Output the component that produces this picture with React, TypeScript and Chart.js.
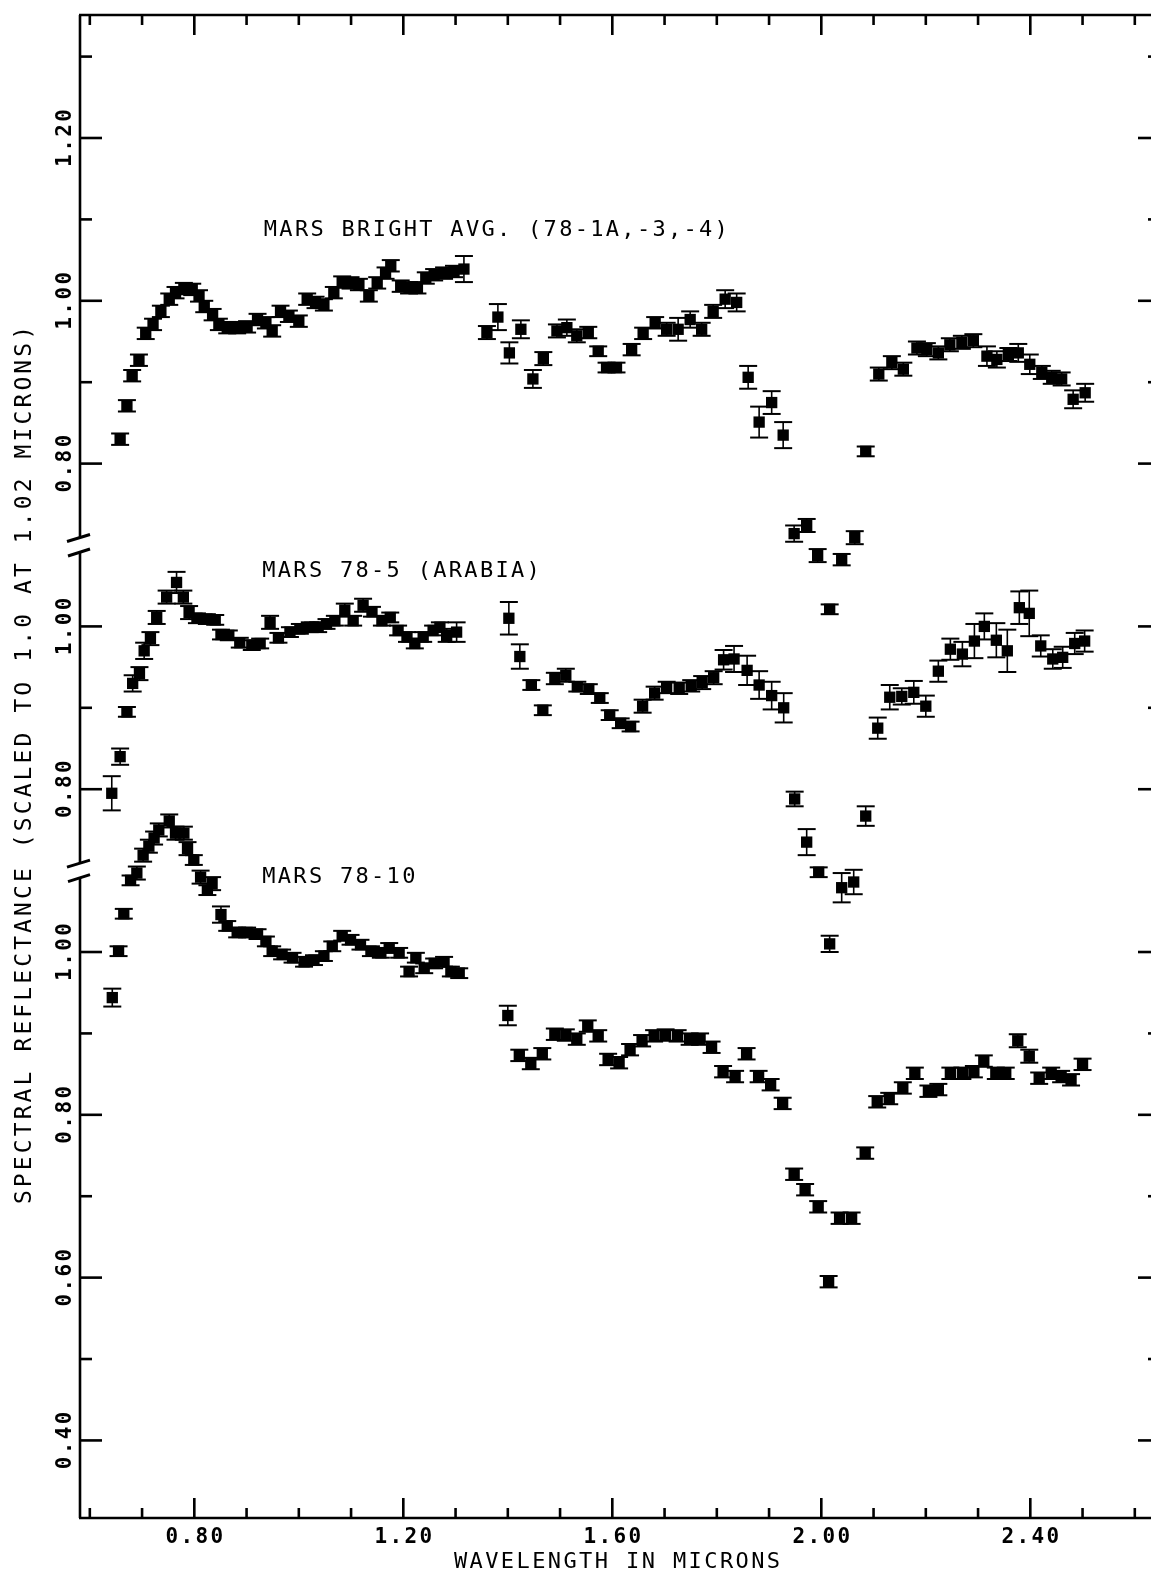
import { useEffect, useRef } from 'react';
import { Chart, registerables } from 'chart.js';

Chart.register(...registerables);

// ---------------- DATA ----------------
// MARS BRIGHT AVG. (78-1A,-3,-4)
const brightWl = [
  0.658, 0.671, 0.681, 0.694, 0.707, 0.721, 0.736, 0.752, 0.764, 0.780,
  0.796, 0.809, 0.819, 0.835, 0.847, 0.863, 0.882, 0.901, 0.921, 0.937,
  0.949, 0.965, 0.981, 1.000, 1.016, 1.032, 1.048, 1.067, 1.083, 1.099,
  1.115, 1.134, 1.150, 1.166, 1.176, 1.195, 1.211, 1.227, 1.243, 1.259,
  1.278, 1.297, 1.316,
  1.360, 1.381, 1.403, 1.425, 1.448, 1.468, 1.494, 1.513, 1.532, 1.554,
  1.573, 1.589, 1.608, 1.637, 1.659, 1.682, 1.704, 1.726, 1.749, 1.771,
  1.793, 1.816, 1.838, 1.860, 1.881, 1.905, 1.927, 1.948, 1.972, 1.993,
  2.016, 2.039, 2.064, 2.085, 2.110, 2.135, 2.157, 2.183, 2.202, 2.224,
  2.246, 2.269, 2.291, 2.317, 2.336, 2.358, 2.377, 2.399, 2.422, 2.441,
  2.460, 2.482, 2.505,
];
const brightRefl = [
  0.830, 0.871, 0.908, 0.927, 0.960, 0.971, 0.987, 1.002, 1.010, 1.015,
  1.014, 1.006, 0.993, 0.983, 0.971, 0.967, 0.967, 0.968, 0.977, 0.973,
  0.963, 0.987, 0.981, 0.975, 1.002, 0.998, 0.995, 1.010, 1.023, 1.022,
  1.020, 1.006, 1.022, 1.034, 1.043, 1.018, 1.016, 1.016, 1.028, 1.032,
  1.034, 1.036, 1.039,
  0.961, 0.980, 0.936, 0.965, 0.904, 0.929, 0.963, 0.967, 0.957, 0.961,
  0.938, 0.918, 0.918, 0.940, 0.960, 0.973, 0.965, 0.965, 0.977, 0.965,
  0.987, 1.002, 0.998, 0.906, 0.851, 0.875, 0.835, 0.714, 0.724, 0.687,
  0.621, 0.682, 0.709, 0.815, 0.910, 0.924, 0.916, 0.942, 0.940, 0.936,
  0.946, 0.949, 0.951, 0.932, 0.928, 0.934, 0.936, 0.922, 0.912, 0.906,
  0.904, 0.879, 0.887,
];
const brightErr = [
  0.007, 0.007, 0.007, 0.007, 0.007, 0.007, 0.007, 0.007, 0.007, 0.007,
  0.007, 0.007, 0.007, 0.007, 0.007, 0.007, 0.007, 0.007, 0.007, 0.007,
  0.007, 0.007, 0.007, 0.007, 0.007, 0.007, 0.007, 0.007, 0.007, 0.007,
  0.007, 0.007, 0.007, 0.007, 0.007, 0.007, 0.007, 0.007, 0.007, 0.007,
  0.007, 0.007, 0.016,
  0.008, 0.016, 0.013, 0.011, 0.011, 0.008, 0.008, 0.010, 0.008, 0.007,
  0.006, 0.006, 0.006, 0.007, 0.007, 0.007, 0.008, 0.014, 0.010, 0.008,
  0.008, 0.011, 0.011, 0.014, 0.019, 0.014, 0.016, 0.010, 0.008, 0.008,
  0.006, 0.007, 0.008, 0.006, 0.008, 0.008, 0.008, 0.008, 0.008, 0.008,
  0.008, 0.008, 0.008, 0.012, 0.010, 0.008, 0.011, 0.012, 0.008, 0.008,
  0.008, 0.011, 0.011,
];

// MARS 78-5 (ARABIA)
const arabiaWl = [
  0.642, 0.658, 0.671, 0.682, 0.695, 0.704, 0.716, 0.728, 0.747, 0.766,
  0.779, 0.790, 0.805, 0.824, 0.840, 0.851, 0.866, 0.887, 0.910, 0.926,
  0.945, 0.961, 0.983, 1.002, 1.021, 1.037, 1.053, 1.069, 1.088, 1.104,
  1.123, 1.140, 1.159, 1.175, 1.190, 1.207, 1.222, 1.238, 1.257, 1.270,
  1.283, 1.302,
  1.402, 1.423, 1.445, 1.467, 1.490, 1.511, 1.533, 1.555, 1.576, 1.595,
  1.616, 1.635, 1.658, 1.681, 1.704, 1.728, 1.751, 1.772, 1.794, 1.813,
  1.833, 1.858, 1.881, 1.905, 1.928, 1.949, 1.972, 1.995, 2.016, 2.039,
  2.062, 2.085, 2.108, 2.131, 2.154, 2.177, 2.200, 2.224, 2.247, 2.270,
  2.293, 2.312, 2.335, 2.356, 2.379, 2.398, 2.420, 2.443, 2.462, 2.485,
  2.504,
];
const arabiaRefl = [
  0.795, 0.840, 0.895, 0.930, 0.942, 0.970, 0.985, 1.011, 1.036, 1.054,
  1.036, 1.017, 1.010, 1.009, 1.008, 0.990, 0.989, 0.980, 0.977, 0.979,
  1.005, 0.986, 0.993, 0.997, 0.999, 0.999, 1.003, 1.007, 1.020, 1.007,
  1.026, 1.018, 1.007, 1.011, 0.995, 0.987, 0.979, 0.987, 0.995, 0.999,
  0.989, 0.993,
  1.010, 0.963, 0.928, 0.897, 0.936, 0.940, 0.926, 0.923, 0.912, 0.891,
  0.881, 0.877, 0.902, 0.918, 0.925, 0.924, 0.927, 0.931, 0.937, 0.959,
  0.960, 0.946, 0.928, 0.915, 0.900, 0.788, 0.735, 0.698, 0.610, 0.679,
  0.686, 0.767, 0.875, 0.913, 0.914, 0.919, 0.902, 0.945, 0.972, 0.966,
  0.982, 1.000, 0.983, 0.970, 1.023, 1.016, 0.976, 0.960, 0.962, 0.979,
  0.982,
];
const arabiaErr = [
  0.021, 0.010, 0.006, 0.010, 0.008, 0.010, 0.008, 0.008, 0.008, 0.013,
  0.008, 0.008, 0.006, 0.006, 0.006, 0.006, 0.006, 0.006, 0.006, 0.006,
  0.008, 0.006, 0.006, 0.006, 0.006, 0.006, 0.006, 0.006, 0.008, 0.006,
  0.008, 0.006, 0.006, 0.006, 0.006, 0.006, 0.006, 0.006, 0.006, 0.006,
  0.008, 0.012,
  0.020, 0.015, 0.006, 0.006, 0.007, 0.008, 0.006, 0.006, 0.006, 0.006,
  0.006, 0.006, 0.008, 0.008, 0.007, 0.007, 0.007, 0.008, 0.008, 0.012,
  0.016, 0.018, 0.017, 0.017, 0.018, 0.009, 0.016, 0.006, 0.010, 0.018,
  0.015, 0.012, 0.013, 0.015, 0.010, 0.014, 0.013, 0.013, 0.013, 0.015,
  0.021, 0.016, 0.021, 0.026, 0.020, 0.028, 0.013, 0.012, 0.013, 0.013,
  0.013,
];

// MARS 78-10
const m10Wl = [
  0.643, 0.655, 0.665, 0.678, 0.690, 0.702, 0.713, 0.723, 0.732, 0.752,
  0.764, 0.780, 0.787, 0.799, 0.812, 0.825, 0.834, 0.851, 0.863, 0.882,
  0.901, 0.921, 0.937, 0.949, 0.968, 0.988, 1.010, 1.029, 1.048, 1.064,
  1.083, 1.099, 1.118, 1.138, 1.157, 1.173, 1.192, 1.211, 1.224, 1.240,
  1.259, 1.278, 1.291, 1.307,
  1.400, 1.422, 1.444, 1.466, 1.490, 1.511, 1.532, 1.553, 1.573, 1.592,
  1.613, 1.634, 1.657, 1.680, 1.702, 1.725, 1.748, 1.768, 1.790, 1.812,
  1.835, 1.857, 1.880, 1.903, 1.926, 1.948, 1.969, 1.994, 2.014, 2.035,
  2.058, 2.084, 2.107, 2.130, 2.156, 2.179, 2.205, 2.224, 2.247, 2.270,
  2.292, 2.311, 2.334, 2.353, 2.376, 2.398, 2.417, 2.440, 2.459, 2.478,
  2.500,
];
const m10Refl = [
  0.944, 1.001, 1.047, 1.088, 1.097, 1.119, 1.130, 1.140, 1.150, 1.161,
  1.146, 1.146, 1.127, 1.113, 1.092, 1.076, 1.084, 1.046, 1.032, 1.024,
  1.024, 1.022, 1.013, 1.001, 0.997, 0.993, 0.988, 0.990, 0.995, 1.007,
  1.020, 1.015, 1.009, 1.001, 0.999, 1.005, 0.999, 0.976, 0.993, 0.980,
  0.986, 0.988, 0.976, 0.974,
  0.922, 0.873, 0.863, 0.875, 0.899, 0.898, 0.893, 0.909, 0.897, 0.868,
  0.864, 0.880, 0.891, 0.897, 0.898, 0.897, 0.893, 0.893, 0.883, 0.853,
  0.847, 0.875, 0.847, 0.837, 0.814, 0.727, 0.708, 0.687, 0.595, 0.673,
  0.673, 0.753, 0.816, 0.820, 0.833, 0.851, 0.829, 0.831, 0.851, 0.851,
  0.853, 0.866, 0.851, 0.851, 0.891, 0.872, 0.845, 0.851, 0.847, 0.843,
  0.862,
];
const m10Err = [
  0.011, 0.006, 0.006, 0.006, 0.008, 0.008, 0.008, 0.008, 0.008, 0.008,
  0.008, 0.008, 0.008, 0.006, 0.008, 0.006, 0.008, 0.010, 0.006, 0.006,
  0.006, 0.006, 0.006, 0.006, 0.006, 0.006, 0.006, 0.006, 0.006, 0.006,
  0.006, 0.006, 0.006, 0.006, 0.006, 0.006, 0.006, 0.006, 0.006, 0.006,
  0.006, 0.006, 0.006, 0.006,
  0.012, 0.007, 0.007, 0.007, 0.007, 0.007, 0.007, 0.007, 0.007, 0.007,
  0.007, 0.007, 0.007, 0.007, 0.007, 0.007, 0.007, 0.007, 0.007, 0.007,
  0.007, 0.007, 0.007, 0.007, 0.007, 0.007, 0.007, 0.007, 0.007, 0.007,
  0.007, 0.007, 0.007, 0.007, 0.007, 0.007, 0.007, 0.007, 0.007, 0.007,
  0.007, 0.007, 0.007, 0.007, 0.008, 0.008, 0.007, 0.007, 0.007, 0.007,
  0.007,
];

// vertical offsets of the three stacked curves (in reflectance units)
const brightShift = 0.8;
const arabiaShift = 0.4;
const m10Shift = 0.0;

// axis ticks
const xTicks = [0.6, 0.7, 0.8, 0.9, 1.0, 1.1, 1.2, 1.3, 1.4, 1.5, 1.6, 1.7, 1.8, 1.9, 2.0, 2.1, 2.2, 2.3, 2.4, 2.5, 2.6];
const xMajorTicks = [0.8, 1.2, 1.6, 2.0, 2.4];
const xTickLabels = ['0.80', '1.20', '1.60', '2.00', '2.40'];
const m10AxisTicks = [0.4, 0.5, 0.6, 0.7, 0.8, 0.9, 1.0];
const arabiaAxisTicks = [0.8, 0.9, 1.0];
const brightAxisTicks = [0.8, 0.9, 1.0, 1.1, 1.2, 1.3];
const axisBreakValue = 0.7; // break drawn at 0.70 of the middle and top panels

const seriesLabels = ['MARS BRIGHT AVG. (78-1A,-3,-4)', 'MARS 78-5 (ARABIA)', 'MARS 78-10'];
const xTitle = 'WAVELENGTH IN MICRONS';
const yTitle = 'SPECTRAL REFLECTANCE (SCALED TO 1.0 AT 1.02 MICRONS)';

// ---------------- LAYOUT ----------------
const W = 1151;
const H = 1575;
const FONT = '"DejaVu Sans Mono", "Liberation Mono", monospace';

function drawText(
  ctx: CanvasRenderingContext2D, s: string, x: number, y: number,
  size: number, weight: string, spacing: number, align: CanvasTextAlign, rot = 0,
) {
  ctx.save();
  ctx.translate(x, y);
  if (rot) ctx.rotate(rot);
  ctx.font = `${weight} ${size}px ${FONT}`;
  (ctx as any).letterSpacing = `${spacing}px`;
  ctx.textAlign = align;
  ctx.textBaseline = 'alphabetic';
  const capH = size * 0.729;
  ctx.fillText(s, align === 'center' ? spacing / 2 : 0, capH / 2);
  ctx.restore();
}

function seg(ctx: CanvasRenderingContext2D, x1: number, y1: number, x2: number, y2: number) {
  ctx.beginPath();
  ctx.moveTo(x1, y1);
  ctx.lineTo(x2, y2);
  ctx.stroke();
}

const whiteBg = {
  id: 'whiteBg',
  beforeDraw(chart: any) {
    const ctx = chart.ctx;
    ctx.save();
    ctx.fillStyle = '#fff';
    ctx.fillRect(0, 0, chart.width, chart.height);
    ctx.restore();
  },
};

const errorBars = {
  id: 'errorBars',
  afterDatasetsDraw(chart: any) {
    const ctx = chart.ctx;
    const ys = chart.scales.y;
    ctx.save();
    ctx.strokeStyle = '#000';
    chart.data.datasets.forEach((ds: any, di: number) => {
      const meta = chart.getDatasetMeta(di);
      meta.data.forEach((pt: any, i: number) => {
        const v = ds.data[i].y;
        const e = ds.errors[i];
        const yt = ys.getPixelForValue(v + e);
        const yb = ys.getPixelForValue(v - e);
        ctx.lineWidth = 1.6;
        seg(ctx, pt.x, yt, pt.x, yb);
        ctx.lineWidth = 2;
        seg(ctx, pt.x - 9, yt, pt.x + 9, yt);
        seg(ctx, pt.x - 9, yb, pt.x + 9, yb);
      });
    });
    ctx.restore();
  },
};

const frame = {
  id: 'frame',
  afterDraw(chart: any) {
    const { ctx, chartArea: a } = chart;
    const xs = chart.scales.x;
    const ys = chart.scales.y;
    ctx.save();
    ctx.strokeStyle = '#000';
    ctx.fillStyle = '#000';
    ctx.lineWidth = 2.6;
    ctx.lineCap = 'butt';
    const L = a.left;
    const T = a.top;
    const B = a.bottom;
    const Rv = a.right + 9; // right axis lies just outside the picture

    // top & bottom lines
    seg(ctx, L - 1, T, a.right, T);
    seg(ctx, L - 1, B, a.right, B);

    // left axis with breaks
    const breaks = [arabiaShift + axisBreakValue, brightShift + axisBreakValue]
      .map((v) => ys.getPixelForValue(v))
      .sort((p: number, q: number) => p - q);
    let start = T;
    for (const b of breaks) {
      seg(ctx, L, start, L, b - 7.5);
      start = b + 7.5;
    }
    seg(ctx, L, start, L, B);
    ctx.lineWidth = 3;
    for (const b of breaks) {
      seg(ctx, L - 13, b - 3.5, L + 10, b - 10.5);
      seg(ctx, L - 12, b + 11, L + 10, b + 4);
    }

    // x ticks (bottom and top, pointing inward)
    ctx.lineWidth = 2.6;
    for (const t of xTicks) {
      const px = xs.getPixelForValue(t);
      const major = xMajorTicks.some((m) => Math.abs(m - t) < 1e-6);
      const len = major ? 20 : 10;
      seg(ctx, px, B, px, B - len);
      seg(ctx, px, T, px, T + len);
    }
    // x tick labels
    xMajorTicks.forEach((t, i) => {
      const px = xs.getPixelForValue(t);
      drawText(ctx, xTickLabels[i], px, B + 17, 21, 'bold', 2.4, 'center');
    });
    drawText(ctx, xTitle, 617, B + 42, 22, 'normal', 2.4, 'center');

    // y ticks for the three panels
    const panels = [
      { ticks: m10AxisTicks, shift: m10Shift },
      { ticks: arabiaAxisTicks, shift: arabiaShift },
      { ticks: brightAxisTicks, shift: brightShift },
    ];
    for (const p of panels) {
      for (const t of p.ticks) {
        const py = ys.getPixelForValue(t + p.shift);
        const major = Math.round(t * 10) % 2 === 0;
        const len = major ? 22 : 12;
        seg(ctx, L, py, L + len, py);
        seg(ctx, Rv, py, Rv - len, py);
        if (major) {
          drawText(ctx, t.toFixed(2), L - 17, py, 21, 'bold', 2.4, 'center', -Math.PI / 2);
        }
      }
    }
    drawText(ctx, yTitle, 23, 765, 23, 'normal', 3.1, 'center', -Math.PI / 2);

    // series labels
    const labelPos = [
      { x: 0.933, y: brightShift + 1.090 },
      { x: 0.930, y: arabiaShift + 1.070 },
      { x: 0.930, y: m10Shift + 1.095 },
    ];
    seriesLabels.forEach((s, i) => {
      const px = xs.getPixelForValue(labelPos[i].x);
      const py = ys.getPixelForValue(labelPos[i].y);
      drawText(ctx, s, px, py, 22, 'normal', 2.3, 'left');
    });
    ctx.restore();
  },
};

function makeSet(wl: number[], refl: number[], err: number[], shift: number, label: string) {
  return {
    label,
    data: wl.map((w, i) => ({ x: w, y: refl[i] + shift })),
    errors: err,
    showLine: false,
    pointStyle: 'rect',
    pointRadius: 8,
    pointHoverRadius: 8,
    pointBorderWidth: 0,
    backgroundColor: '#000',
    borderColor: '#000',
  };
}

export default function App() {
  const ref = useRef<HTMLCanvasElement | null>(null);
  useEffect(() => {
    const canvas = ref.current;
    if (!canvas) return;
    const chart = new Chart(canvas, {
      type: 'scatter',
      data: {
        datasets: [
          makeSet(brightWl, brightRefl, brightErr, brightShift, seriesLabels[0]),
          makeSet(arabiaWl, arabiaRefl, arabiaErr, arabiaShift, seriesLabels[1]),
          makeSet(m10Wl, m10Refl, m10Err, m10Shift, seriesLabels[2]),
        ] as any,
      },
      options: {
        responsive: false,
        animation: false,
        devicePixelRatio: 1,
        layout: { autoPadding: false, padding: { left: 80, right: 0, top: 15, bottom: 57 } },
        plugins: { legend: { display: false }, tooltip: { enabled: false }, title: { display: false } },
        scales: {
          x: { type: 'linear', min: 0.5812, max: 2.631, display: false },
          y: { type: 'linear', min: 0.3047, max: 2.1511, display: false },
        },
      } as any,
      plugins: [whiteBg, errorBars, frame],
    });
    return () => chart.destroy();
  }, []);
  return (
    <div style={{ position: 'absolute', left: 0, top: 0, width: W, height: H, background: '#fff' }}>
      <canvas ref={ref} width={W} height={H} style={{ display: 'block', width: W, height: H }} />
    </div>
  );
}
